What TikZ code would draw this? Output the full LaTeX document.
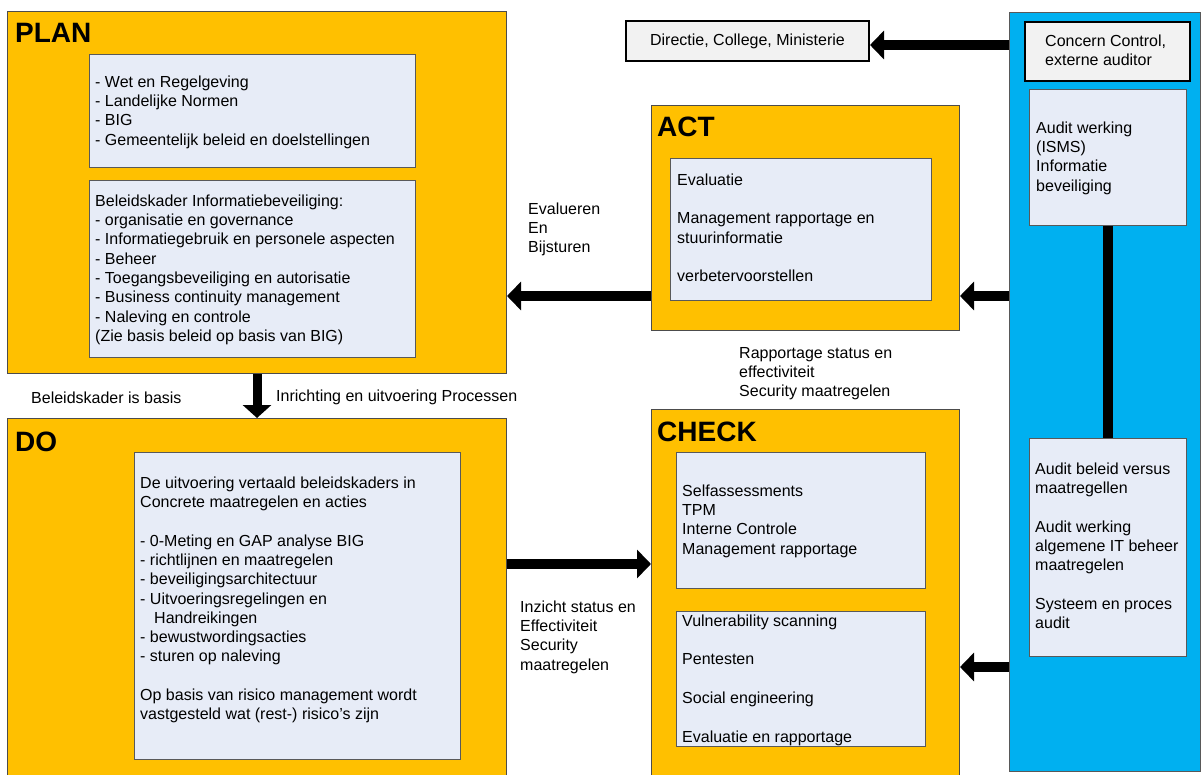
\documentclass[tikz,border=0pt]{standalone}
\usepackage{fontspec}
\setmainfont{Liberation Sans}
\usetikzlibrary{arrows.meta}
\definecolor{gold}{HTML}{FFC000}
\definecolor{pale}{HTML}{E7ECF7}
\definecolor{sky}{HTML}{00B0F0}
\definecolor{lightgrey}{HTML}{F2F2F2}
\definecolor{edge}{HTML}{595959}
\begin{document}
\begin{tikzpicture}[x=1pt,y=-1pt,
  box/.style={anchor=north west, inner sep=0, draw=edge, line width=1pt},
  phase/.style={box, fill=gold, draw=black!70},
  inner/.style={box, fill=pale},
  greybox/.style={box, fill=lightgrey, draw=black, line width=2pt},
  txt/.style={inner sep=0, align=left, anchor=north west, font=\fontsize{16}{19.3}\selectfont},
  lbl/.style={inner sep=0, anchor=base west, font=\fontsize{16}{19.3}\selectfont},
  ttl/.style={inner sep=0, anchor=base west, font=\fontsize{28}{32}\selectfont\bfseries},
  bigarrow/.style={line width=10pt, -{Triangle[length=14pt,width=28pt]}},
  bar/.style={line width=10pt}]
\useasboundingbox (0,0) rectangle (1201,775);
\clip (0,0) rectangle (1201,775);

% PLAN
\node[phase, minimum width=499pt, minimum height=362pt] (plan) at (7,11) {};
\node[ttl] (plantitle) at (15,43) {PLAN};
\node[inner, minimum width=326pt, minimum height=113pt] (planA) at (89,54) {};
\node[txt] (planAtext) at (95,73.5) {\strut- Wet en Regelgeving\\- Landelijke Normen\\- BIG\\- Gemeentelijk beleid en doelstellingen};
\node[inner, minimum width=326pt, minimum height=177pt] (planB) at (89,180) {};
\node[txt] (planBtext) at (95,192.5) {\strut Beleidskader Informatiebeveiliging:\\- organisatie en governance\\- Informatiegebruik en personele aspecten\\- Beheer\\- Toegangsbeveiliging en autorisatie\\- Business continuity management\\- Naleving en controle\\(Zie basis beleid op basis van BIG)};

% DO
\node[phase, minimum width=499pt, minimum height=372pt] (do) at (7,418) {};
\node[ttl] (dotitle) at (15,451) {DO};
\node[inner, minimum width=326pt, minimum height=307pt] (doIn) at (134,452) {};
\node[txt] (doText) at (140,474.5) {\strut De uitvoering vertaald beleidskaders in\\Concrete maatregelen en acties\\\mbox{}\\- 0-Meting en GAP analyse BIG\\- richtlijnen en maatregelen\\- beveiligingsarchitectuur\\- Uitvoeringsregelingen en\\\hspace*{14pt}Handreikingen\\- bewustwordingsacties\\- sturen op naleving\\\mbox{}\\Op basis van risico management wordt\\vastgesteld wat (rest-) risico’s zijn};

% ACT
\node[phase, minimum width=308pt, minimum height=225pt] (act) at (651,105) {};
\node[ttl] (acttitle) at (657,137) {ACT};
\node[inner, minimum width=261pt, minimum height=142pt] (actIn) at (670,158) {};
\node[txt] (actText) at (677,171.5) {\strut Evaluatie\\\mbox{}\\Management rapportage en\\stuurinformatie\\\mbox{}\\verbetervoorstellen};

% CHECK
\node[phase, minimum width=308pt, minimum height=381pt] (check) at (651,409) {};
\node[ttl] (checktitle) at (657,441) {CHECK};
\node[inner, minimum width=249pt, minimum height=136pt] (checkA) at (676,452) {};
\node[txt] (checkAtext) at (682,482.5) {\strut Selfassessments\\TPM\\Interne Controle\\Management rapportage};
\node[inner, minimum width=249pt, minimum height=135pt] (checkB) at (676,611) {};
\node[txt] (checkBtext) at (682,612.5) {\strut Vulnerability scanning\\\mbox{}\\Pentesten\\\mbox{}\\Social engineering\\\mbox{}\\Evaluatie en rapportage};

% Audit column
\node[box, fill=sky, minimum width=191pt, minimum height=759pt] (blue) at (1009,12) {};
\node[greybox, minimum width=165pt, minimum height=59pt] (concern) at (1024,21) {};
\node[txt] (concernText) at (1045,32.5) {\strut Concern Control,\\externe auditor};
\node[inner, minimum width=157pt, minimum height=136pt] (auditA) at (1029,89) {};
\node[txt] (auditAtext) at (1036,119.5) {\strut Audit werking\\(ISMS)\\Informatie\\beveiliging};
\node[inner, minimum width=157pt, minimum height=218pt] (auditB) at (1029,438) {};
\node[txt] (auditBtext) at (1035,460.5) {\strut Audit beleid versus\\maatregellen\\\mbox{}\\Audit werking\\algemene IT beheer\\maatregelen\\\mbox{}\\Systeem en proces\\audit};

% Directie
\node[greybox, minimum width=243pt, minimum height=40pt, font=\fontsize{16}{19.3}\selectfont] (directie) at (625,20) {};
\node[inner sep=0, font=\fontsize{16}{19.3}\selectfont] (directieText) at (directie.center) {Directie, College, Ministerie};

% free labels
\node[lbl] (lblBasis) at (31,403) {Beleidskader is basis};
\node[lbl] (lblInrichting) at (276,401) {Inrichting en uitvoering Processen};
\node[txt] (lblEval) at (528,200.5) {\strut Evalueren\\En\\Bijsturen};
\node[txt] (lblRapp) at (739,344.5) {\strut Rapportage status en\\effectiviteit\\Security maatregelen};
\node[txt] (lblInzicht) at (520,598.5) {\strut Inzicht status en\\Effectiviteit\\Security\\maatregelen};

% connectors
\draw[line width=9pt, -{Triangle[length=13pt,width=28pt]}] (plan.south) -- (do.north);
\draw[bigarrow] (act.west |- 0,296) -- (plan.east |- 0,296);
\draw[bigarrow] (blue.west |- 0,296) -- (act.east |- 0,296);
\draw[bigarrow] (blue.west |- 0,45) -- (directie.east |- 0,45);
\draw[bigarrow] (do.east |- 0,564) -- (check.west |- 0,564);
\draw[bigarrow] (blue.west |- 0,667) -- (check.east |- 0,667);
\draw[bar] (auditA.south) -- (auditB.north);
\end{tikzpicture}
\end{document}
